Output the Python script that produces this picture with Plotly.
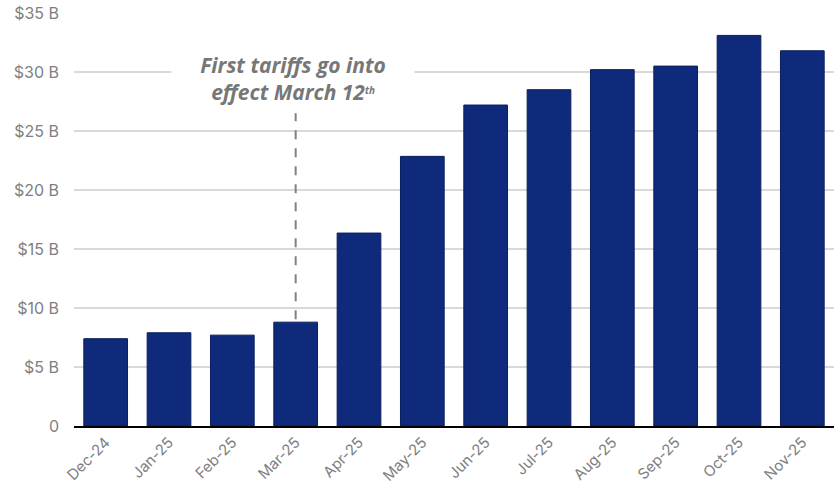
import plotly.graph_objects as go

months = ["Dec-24", "Jan-25", "Feb-25", "Mar-25", "Apr-25", "May-25",
          "Jun-25", "Jul-25", "Aug-25", "Sep-25", "Oct-25", "Nov-25"]
values = [7.4, 7.9, 7.7, 8.8, 16.35, 22.85, 27.2, 28.5, 30.2, 30.5, 33.1, 31.8]
tick_vals = [0, 5, 10, 15, 20, 25, 30, 35]
tick_text = ["0", "$5 B", "$10 B", "$15 B", "$20 B", "$25 B", "$30 B", "$35 B"]

annot_month = "Mar-25"
annot_text = ("First tariffs go into<br>effect March 12"
              "<span style='font-size:14px'><sup>th</sup></span>")

fig = go.Figure()
fig.add_trace(go.Bar(
    x=months, y=values,
    marker=dict(color="#0F2A7A", line=dict(color="#0A1F5E", width=1)),
))

fig.add_shape(type="line", xref="x", yref="y",
              x0=annot_month, x1=annot_month,
              y0=values[months.index(annot_month)] + 0.25, y1=26.5,
              line=dict(color="#808080", width=2, dash="dash"))

fig.add_annotation(x=annot_month, y=29.45, xref="x", yref="y",
                   text=annot_text, showarrow=False, width=236,
                   font=dict(family="Open Sans", size=21, color="#777777",
                             weight="bold", style="italic"),
                   bgcolor="white", borderpad=3, align="center", xshift=-3)

fig.update_layout(
    width=834, height=490,
    margin=dict(l=74, r=0, t=13, b=64),
    plot_bgcolor="white", paper_bgcolor="white",
    bargap=0.31, showlegend=False,
    xaxis=dict(tickangle=-45, tickfont=dict(family="Inter", size=15, color="#808080"),
               showgrid=False, showline=True, linecolor="black", linewidth=1.5,
               ticks="", ticklen=0),
    yaxis=dict(range=[0, 35], tickvals=tick_vals, ticktext=tick_text,
               tickfont=dict(family="Inter", size=16, color="#808080"),
               showgrid=True, gridcolor="#D9D9D9", gridwidth=1.5,
               zeroline=False, showline=False, ticklabelstandoff=14),
)

fig.write_html("out.html")
